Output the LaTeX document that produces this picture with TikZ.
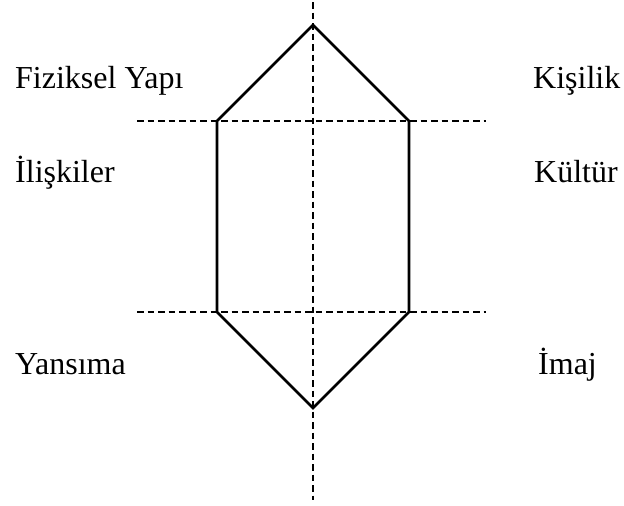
\documentclass[tikz,border=0pt]{standalone}
\usepackage{fontspec}
\setmainfont{Liberation Serif}
\begin{document}
\begin{tikzpicture}[x=1pt,y=-1pt,
  guide/.style={line width=2.2pt,dash pattern=on 6.5pt off 4pt},
  outline/.style={line width=2.6pt,line join=miter},
  label/.style={anchor=base west,inner sep=0pt,font=\fontsize{32}{38}\selectfont}]
  \useasboundingbox (0,0) rectangle (624,506);
  % hexagon corners
  \coordinate (T)  at (313,25);
  \coordinate (UL) at (217,121);
  \coordinate (UR) at (409,121);
  \coordinate (LL) at (217,312);
  \coordinate (LR) at (409,312);
  \coordinate (B)  at (313,408);
  % guide line ends
  \coordinate (vtop) at (313,2);
  \coordinate (vbot) at (313,500);
  \coordinate (h1l) at (137,121);
  \coordinate (h1r) at (486,121);
  \coordinate (h2l) at (137,312);
  \coordinate (h2r) at (486,312);
  % dashed guides
  \draw[guide] (vtop) -- (vbot);
  \draw[guide] (h1l) -- (h1r);
  \draw[guide] (h2l) -- (h2r);
  % hexagon
  \draw[outline] (T) -- (UR) -- (LR) -- (B) -- (LL) -- (UL) -- cycle;
  % labels
  \node[label] (fiz) at (15,88) {Fiziksel Yapı};
  \node[label] (ili) at (15,182) {İlişkiler};
  \node[label] (yan) at (15,374) {Yansıma};
  \node[label] (kis) at (533,88) {Kişilik};
  \node[label] (kul) at (534,182) {Kültür};
  \node[label] (ima) at (538,374) {İmaj};
\end{tikzpicture}
\end{document}
